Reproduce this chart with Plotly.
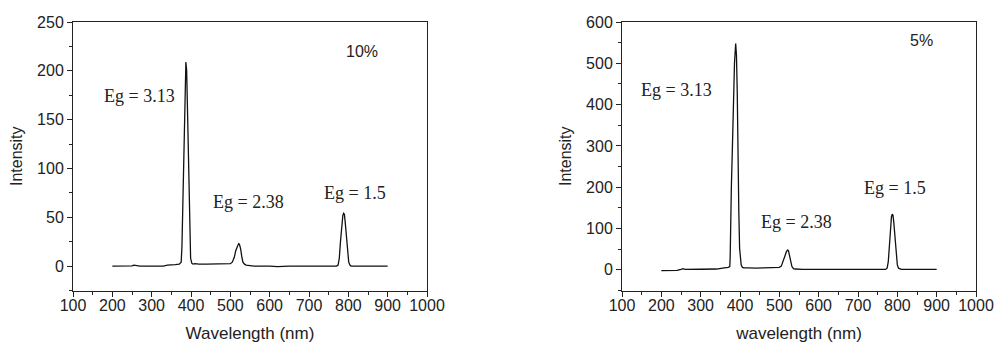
import plotly.graph_objects as go

# ---- data: 10% sample (left panel) ----
wl_10 = [200, 220, 240, 250, 255, 260, 270, 300, 330, 340, 350, 360, 370, 375, 377, 379,
         381, 383, 385, 387, 389, 391, 393, 395, 397, 399, 402, 405, 410, 420, 440, 460,
         480, 500, 505, 510, 514, 518, 521, 523, 526, 529, 532, 536, 540, 550, 560, 600,
         620, 650, 700, 750, 770, 774, 777, 780, 783, 786, 788, 790, 792, 795, 798, 801,
         804, 807, 810, 850, 900]
int_10 = [0, 0, 0, 0.3, 1, 0.5, 0, 0, 0, 1, 1, 1.5, 2, 4, 20, 60,
          110, 160, 195, 209, 200, 160, 110, 60, 25, 8, 3, 2, 2.5, 2, 2, 2,
          2.5, 2.5, 4, 9, 16, 21, 23, 22.5, 18, 10, 4, 2, 1, 0.5, 0, 0,
          -0.5, 0, 0, 0, 0, 1, 8, 25, 42, 52, 54, 53, 45, 28, 12, 4,
          1, 0, 0, 0, 0]

# ---- data: 5% sample (right panel) ----
wl_5 = [200, 220, 240, 250, 255, 260, 270, 300, 340, 350, 360, 370, 374, 375, 376, 378,
        380, 382, 384, 386, 389, 391, 393, 394, 396, 397, 399, 401, 403, 406, 410, 420,
        440, 460, 480, 500, 505, 510, 514, 518, 521, 523, 526, 529, 532, 536, 540, 560,
        600, 700, 770, 774, 777, 780, 783, 785, 787, 789, 791, 794, 797, 800, 803, 807,
        810, 850, 900]
int_5 = [-2, -2, -1.5, 1, 3, 1, 1.5, 1.5, 2, 4, 5, 6, 8, 30, 110, 200,
         270, 350, 430, 500, 548, 520, 430, 300, 153, 140, 52, 25, 12, 6, 5, 5,
         4, 5, 6, 6, 9, 20, 33, 44, 48, 47, 36, 20, 8, 3, 2, 1,
         1, 1, 1, 4, 20, 60, 105, 128, 135, 132, 115, 75, 35, 12, 4, 1,
         1, 1, 1]

x_ticks = [100, 200, 300, 400, 500, 600, 700, 800, 900, 1000]
y_ticks_10 = [0, 50, 100, 150, 200, 250]
y_ticks_5 = [0, 100, 200, 300, 400, 500, 600]

labels_10 = [("Eg = 3.13", 173, 174), ("Eg = 2.38", 452, 66), ("Eg = 1.5", 734, 75)]
labels_5 = [("Eg = 3.13", 144, 436), ("Eg = 2.38", 448, 117), ("Eg = 1.5", 711, 199)]

SANS = "Liberation Sans, Arial, sans-serif"
SERIF = "Liberation Serif, Times New Roman, serif"
TXT = "#222222"

W, H = 995, 343

def px_x(p):
    return p / W

def px_y(p):
    return 1 - p / H

fig = go.Figure()
fig.add_trace(go.Scatter(x=wl_10, y=int_10, mode="lines", xaxis="x", yaxis="y",
                         line=dict(color="#111111", width=1.3), showlegend=False))
fig.add_trace(go.Scatter(x=wl_5, y=int_5, mode="lines", xaxis="x2", yaxis="y2",
                         line=dict(color="#111111", width=1.3), showlegend=False))

def xax(domain, anchor, title):
    return dict(domain=domain, anchor=anchor, range=[100, 1000], tickvals=x_ticks,
                automargin=False, ticklabelstandoff=-5,
                ticks="outside", ticklen=5, tickwidth=1, tickcolor="#222",
                minor=dict(dtick=50, tick0=100, ticks="outside", ticklen=3, tickcolor="#222"),
                showline=True, linecolor="#222", linewidth=1, mirror=True,
                showgrid=False, zeroline=False,
                tickfont=dict(family=SANS, size=16, color=TXT),
                title=dict(text=title, font=dict(family=SANS, size=17, color=TXT), standoff=14))

def yax(domain, anchor, rng, vals, minor_dt, standoff):
    return dict(domain=domain, anchor=anchor, range=rng, tickvals=vals,
                automargin=False,
                ticks="outside", ticklen=5, tickwidth=1, tickcolor="#222",
                minor=dict(dtick=minor_dt, tick0=0, ticks="outside", ticklen=3, tickcolor="#222"),
                showline=True, linecolor="#222", linewidth=1, mirror=True,
                showgrid=False, zeroline=False,
                tickfont=dict(family=SANS, size=16, color=TXT),
                title=dict(text="Intensity", font=dict(family=SANS, size=16, color=TXT),
                           standoff=standoff))

yd = [px_y(290.5), px_y(22)]
fig.update_layout(
    width=W, height=H, margin=dict(l=0, r=0, t=0, b=0),
    paper_bgcolor="white", plot_bgcolor="white",
    xaxis=xax([px_x(73), px_x(427)], "y", "Wavelength (nm)"),
    yaxis=yax(yd, "x", [-25, 250], y_ticks_10, 25, 10),
    xaxis2=xax([px_x(622), px_x(976)], "y2", "wavelength (nm)"),
    yaxis2=yax(yd, "x2", [-50, 600], y_ticks_5, 50, 10),
)

ann = []
for t, x, y in labels_10:
    ann.append(dict(text=t, x=x, y=y, xref="x", yref="y", xanchor="left", yanchor="middle",
                    showarrow=False, font=dict(family=SERIF, size=18, color=TXT)))
for t, x, y in labels_5:
    ann.append(dict(text=t, x=x, y=y, xref="x2", yref="y2", xanchor="left", yanchor="middle",
                    showarrow=False, font=dict(family=SERIF, size=18, color=TXT)))
ann.append(dict(text="10%", x=789, y=220, xref="x", yref="y", xanchor="left", yanchor="middle",
                showarrow=False, font=dict(family=SANS, size=16, color=TXT)))
ann.append(dict(text="5%", x=826, y=556, xref="x2", yref="y2", xanchor="left", yanchor="middle",
                showarrow=False, font=dict(family=SANS, size=16, color=TXT)))
fig.update_layout(annotations=ann)

# remove the browser's default page margin so the 995x343 figure fills the window
fig.write_html("out.html", config={"displayModeBar": False},
               post_script="document.body.style.margin='0';document.body.style.overflow='hidden';")
